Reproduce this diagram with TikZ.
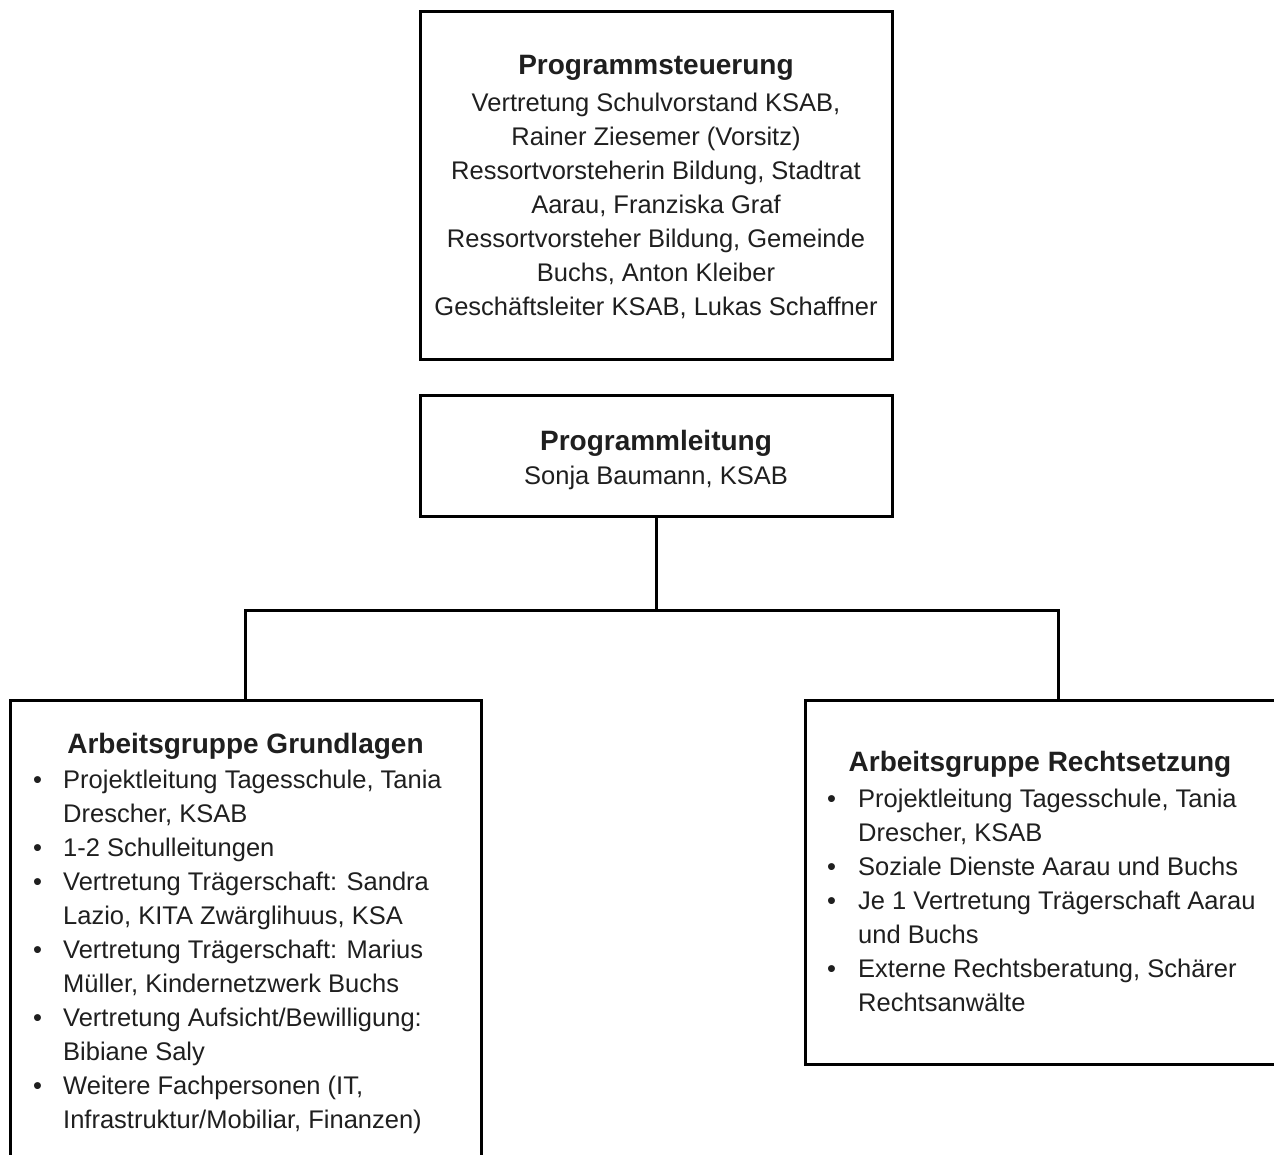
\documentclass[tikz,border=0pt]{standalone}
\usepackage{fontspec}
\setmainfont{Liberation Sans}
\usetikzlibrary{calc}
\begin{document}
\begin{tikzpicture}[x=1pt,y=-1pt,
  box/.style={draw=black, line width=3pt, rectangle, inner sep=0pt, fill=white},
  body/.style={font=\fontsize{25.5}{34}\selectfont, text=black!88, inner sep=0pt},
  ttl/.style={body, anchor=base},
]
\newcommand{\hd}[1]{{\fontsize{28}{34}\selectfont\bfseries #1}}
\useasboundingbox (0,0) rectangle (1274,1155);
\clip (0,0) rectangle (1274,1155);
\fill[white] (0,0) rectangle (1274,1155);

% boxes
\node[box, minimum width=472pt, minimum height=348pt] (ps) at (656,186) {};
\node[box, minimum width=472pt, minimum height=121pt] (pl) at (656,455.5) {};
\node[box, minimum width=471pt, minimum height=485pt] (gl) at (245.5,942.5) {};
\node[box, minimum width=470pt, minimum height=364pt] (rs) at (1040,882) {};

% texts
\node[ttl] (pst) at (656,75) {\begin{tabular}[t]{@{}c@{}}\hd{Programmsteuerung}\\[3pt]
Vertretung Schulvorstand KSAB,\\
Rainer Ziesemer (Vorsitz)\\
Ressortvorsteherin Bildung, Stadtrat\\
Aarau, Franziska Graf\\
Ressortvorsteher Bildung, Gemeinde\\
Buchs, Anton Kleiber\\
Geschäftsleiter KSAB, Lukas Schaffner\end{tabular}};

\node[ttl] (plt) at (656,450) {\begin{tabular}[t]{@{}c@{}}\hd{Programmleitung}\\
Sonja Baumann, KSAB\end{tabular}};

\node[ttl] (glt) at (245.5,753) {\hd{Arbeitsgruppe Grundlagen}};
\node[body, anchor=base west] (gll) at (33,788) {\begin{tabular}[t]{@{}p{30pt}@{}l@{}}
\textbullet & Projektleitung Tagesschule, Tania\\
 & Drescher, KSAB\\
\textbullet & 1-2 Schulleitungen\\
\textbullet & Vertretung Trägerschaft: Sandra\\
 & Lazio, KITA Zwärglihuus, KSA\\
\textbullet & Vertretung Trägerschaft: Marius\\
 & Müller, Kindernetzwerk Buchs\\
\textbullet & Vertretung Aufsicht/Bewilligung:\\
 & Bibiane Saly\\
\textbullet & Weitere Fachpersonen (IT,\\
 & Infrastruktur/Mobiliar, Finanzen)
\end{tabular}};

\node[ttl] (rst) at (1040,771) {\hd{Arbeitsgruppe Rechtsetzung}};
\node[body, anchor=base west] (rsl) at (827,807) {\begin{tabular}[t]{@{}p{31pt}@{}l@{}}
\textbullet & Projektleitung Tagesschule, Tania\\
 & Drescher, KSAB\\
\textbullet & Soziale Dienste Aarau und Buchs\\
\textbullet & Je 1 Vertretung Trägerschaft Aarau\\
 & und Buchs\\
\textbullet & Externe Rechtsberatung, Schärer\\
 & Rechtsanwälte
\end{tabular}};

% connectors
\coordinate (bus) at (656,610);
\coordinate (rsj) at (1058,700);
\draw[line width=3pt] (pl.south) -- (bus);
\draw[line width=3pt] (gl.north) |- (bus) -| (rsj);
\end{tikzpicture}
\end{document}
